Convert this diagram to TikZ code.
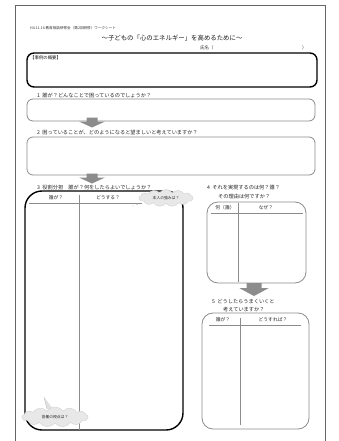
\documentclass[tikz,border=0pt]{standalone}
\usepackage{fontspec}
\setmainfont{Noto Sans CJK JP}
\usetikzlibrary{shapes.symbols}
\newcommand{\blockarr}[5]{% cx, top, stem half, head half, height
  \fill[black!45] ({#1-#3},#2) -- ({#1+#3},#2) -- ({#1+#3},{#2+0.4*#5}) -- ({#1+#4},{#2+0.4*#5})
    -- (#1,{#2+#5}) -- ({#1-#4},{#2+0.4*#5}) -- ({#1-#3},{#2+0.4*#5}) -- cycle;}
\begin{document}
\begin{tikzpicture}[x=1pt,y=-1pt,
 qtext/.style={anchor=west, font=\fontsize{5.2}{6}\selectfont, inner sep=0pt, text=black!85},
 htext/.style={anchor=center, font=\fontsize{4.8}{6}\selectfont, inner sep=0pt, text=black!85},
 graybox/.style={draw=black!45, line width=0.8pt, rounded corners=6pt},
 blackbox/.style={draw=black, line width=1.4pt},
 divider/.style={draw=black!45, line width=0.6pt},
 cloudnote/.style={cloud, cloud puffs=13, cloud puff arc=110, aspect=3.2, fill=black!9, draw=black!18, line width=0.4pt, font=\fontsize{3.8}{5}\selectfont, inner sep=0.5pt, text=black!85}
]
\useasboundingbox[fill=white] (0,0) rectangle (338,441);
% page frame
\draw[black!60, line width=0.6pt] (15,441) -- (15,5) -- (325,5) -- (325,441);

% header
\node[anchor=west, font=\fontsize{3.6}{4}\selectfont, inner sep=0pt, text=black!80] (hdr) at (30,28) {H4.11.16\ 教育相談研修会（第2回研修）ワークシート};
\node[anchor=center, font=\fontsize{6.4}{7}\selectfont, inner sep=0pt, text=black!90] (title) at (172,38) {〜子どもの「心のエネルギー」を高めるために〜};
\node[anchor=west, font=\fontsize{4.4}{5}\selectfont, inner sep=0pt, text=black!85] (name) at (200,48) {氏名（};
\node[anchor=west, font=\fontsize{4.4}{5}\selectfont, inner sep=0pt, text=black!85] (nameend) at (302,48) {）};

% case summary
\draw[blackbox, rounded corners=7pt] (27,53) rectangle (317,87);
\node[anchor=west, font=\fontsize{4.4}{5}\selectfont, inner sep=0pt, text=black!90] (case) at (30,57.5) {【事例の概要】};

% Q1
\node[qtext] (q1) at (37,96) {1\ \ 誰が？どんなことで困っているのでしょうか？};
\draw[graybox] (27,99) rectangle (315,121);
\blockarr{92}{117.5}{5.5}{13}{10}

% Q2
\node[qtext] (q2) at (37,133) {2\ \ 困っていることが、どのようになると望ましいと考えていますか？};
\draw[graybox] (27,137) rectangle (315,175);
\blockarr{92}{173.5}{5.5}{13}{10}

% Q3 big box
\draw[blackbox, rounded corners=17pt] (25,191) rectangle (183,430);
\node[qtext] (q3) at (37,187.5) {3\ \ 役割分担　誰が？何をしたらよいでしょうか？};
\node[htext] (h3a) at (56,197.5) {誰が？};
\node[htext] (h3b) at (108,197.5) {どうする？};
\draw[divider] (29,203) -- (142,203);
\draw[divider] (79,195) -- (79,430);
\node[cloudnote, minimum width=54pt, minimum height=17pt] (c1) at (166,198) {本人の強みは？};
\fill[black!18] (137,204.5) circle (0.9pt) (133,206) circle (0.6pt);
\fill[black!12] (44,397) -- (47,409) -- (53,409) -- cycle;
\draw[black!25, line width=0.4pt] (44,397) -- (47,409);
\node[cloudnote, minimum width=66pt, minimum height=20pt] (c2) at (55,417) {協働の視点は？};

% Q4
\node[qtext] (q4) at (207,188) {4\ \ それを実現するのは何？誰？};
\node[qtext] (q4b) at (218,196.5) {その理由は何ですか？};
\draw[graybox, rounded corners=11pt] (207,202) rectangle (306,283);
\node[htext] (h4a) at (225,207.5) {何（誰）};
\node[htext] (h4b) at (266,207.5) {なぜ？};
\draw[divider] (211,213) -- (303,213);
\draw[divider] (238,203) -- (238,282);
\blockarr{254}{283}{7.5}{14.5}{13}

% Q5
\node[qtext] (q5) at (212,302) {5\ \ どうしたらうまくいくと};
\node[qtext] (q5b) at (223,310) {考えていますか？};
\draw[graybox, rounded corners=11pt] (202,313) rectangle (309,429);
\node[htext] (h5a) at (223,320) {誰が？};
\node[htext] (h5b) at (273,320) {どうすれば？};
\draw[divider] (209,325.5) -- (301,325.5);
\draw[divider] (240,318) -- (240,425);
\end{tikzpicture}
\end{document}
